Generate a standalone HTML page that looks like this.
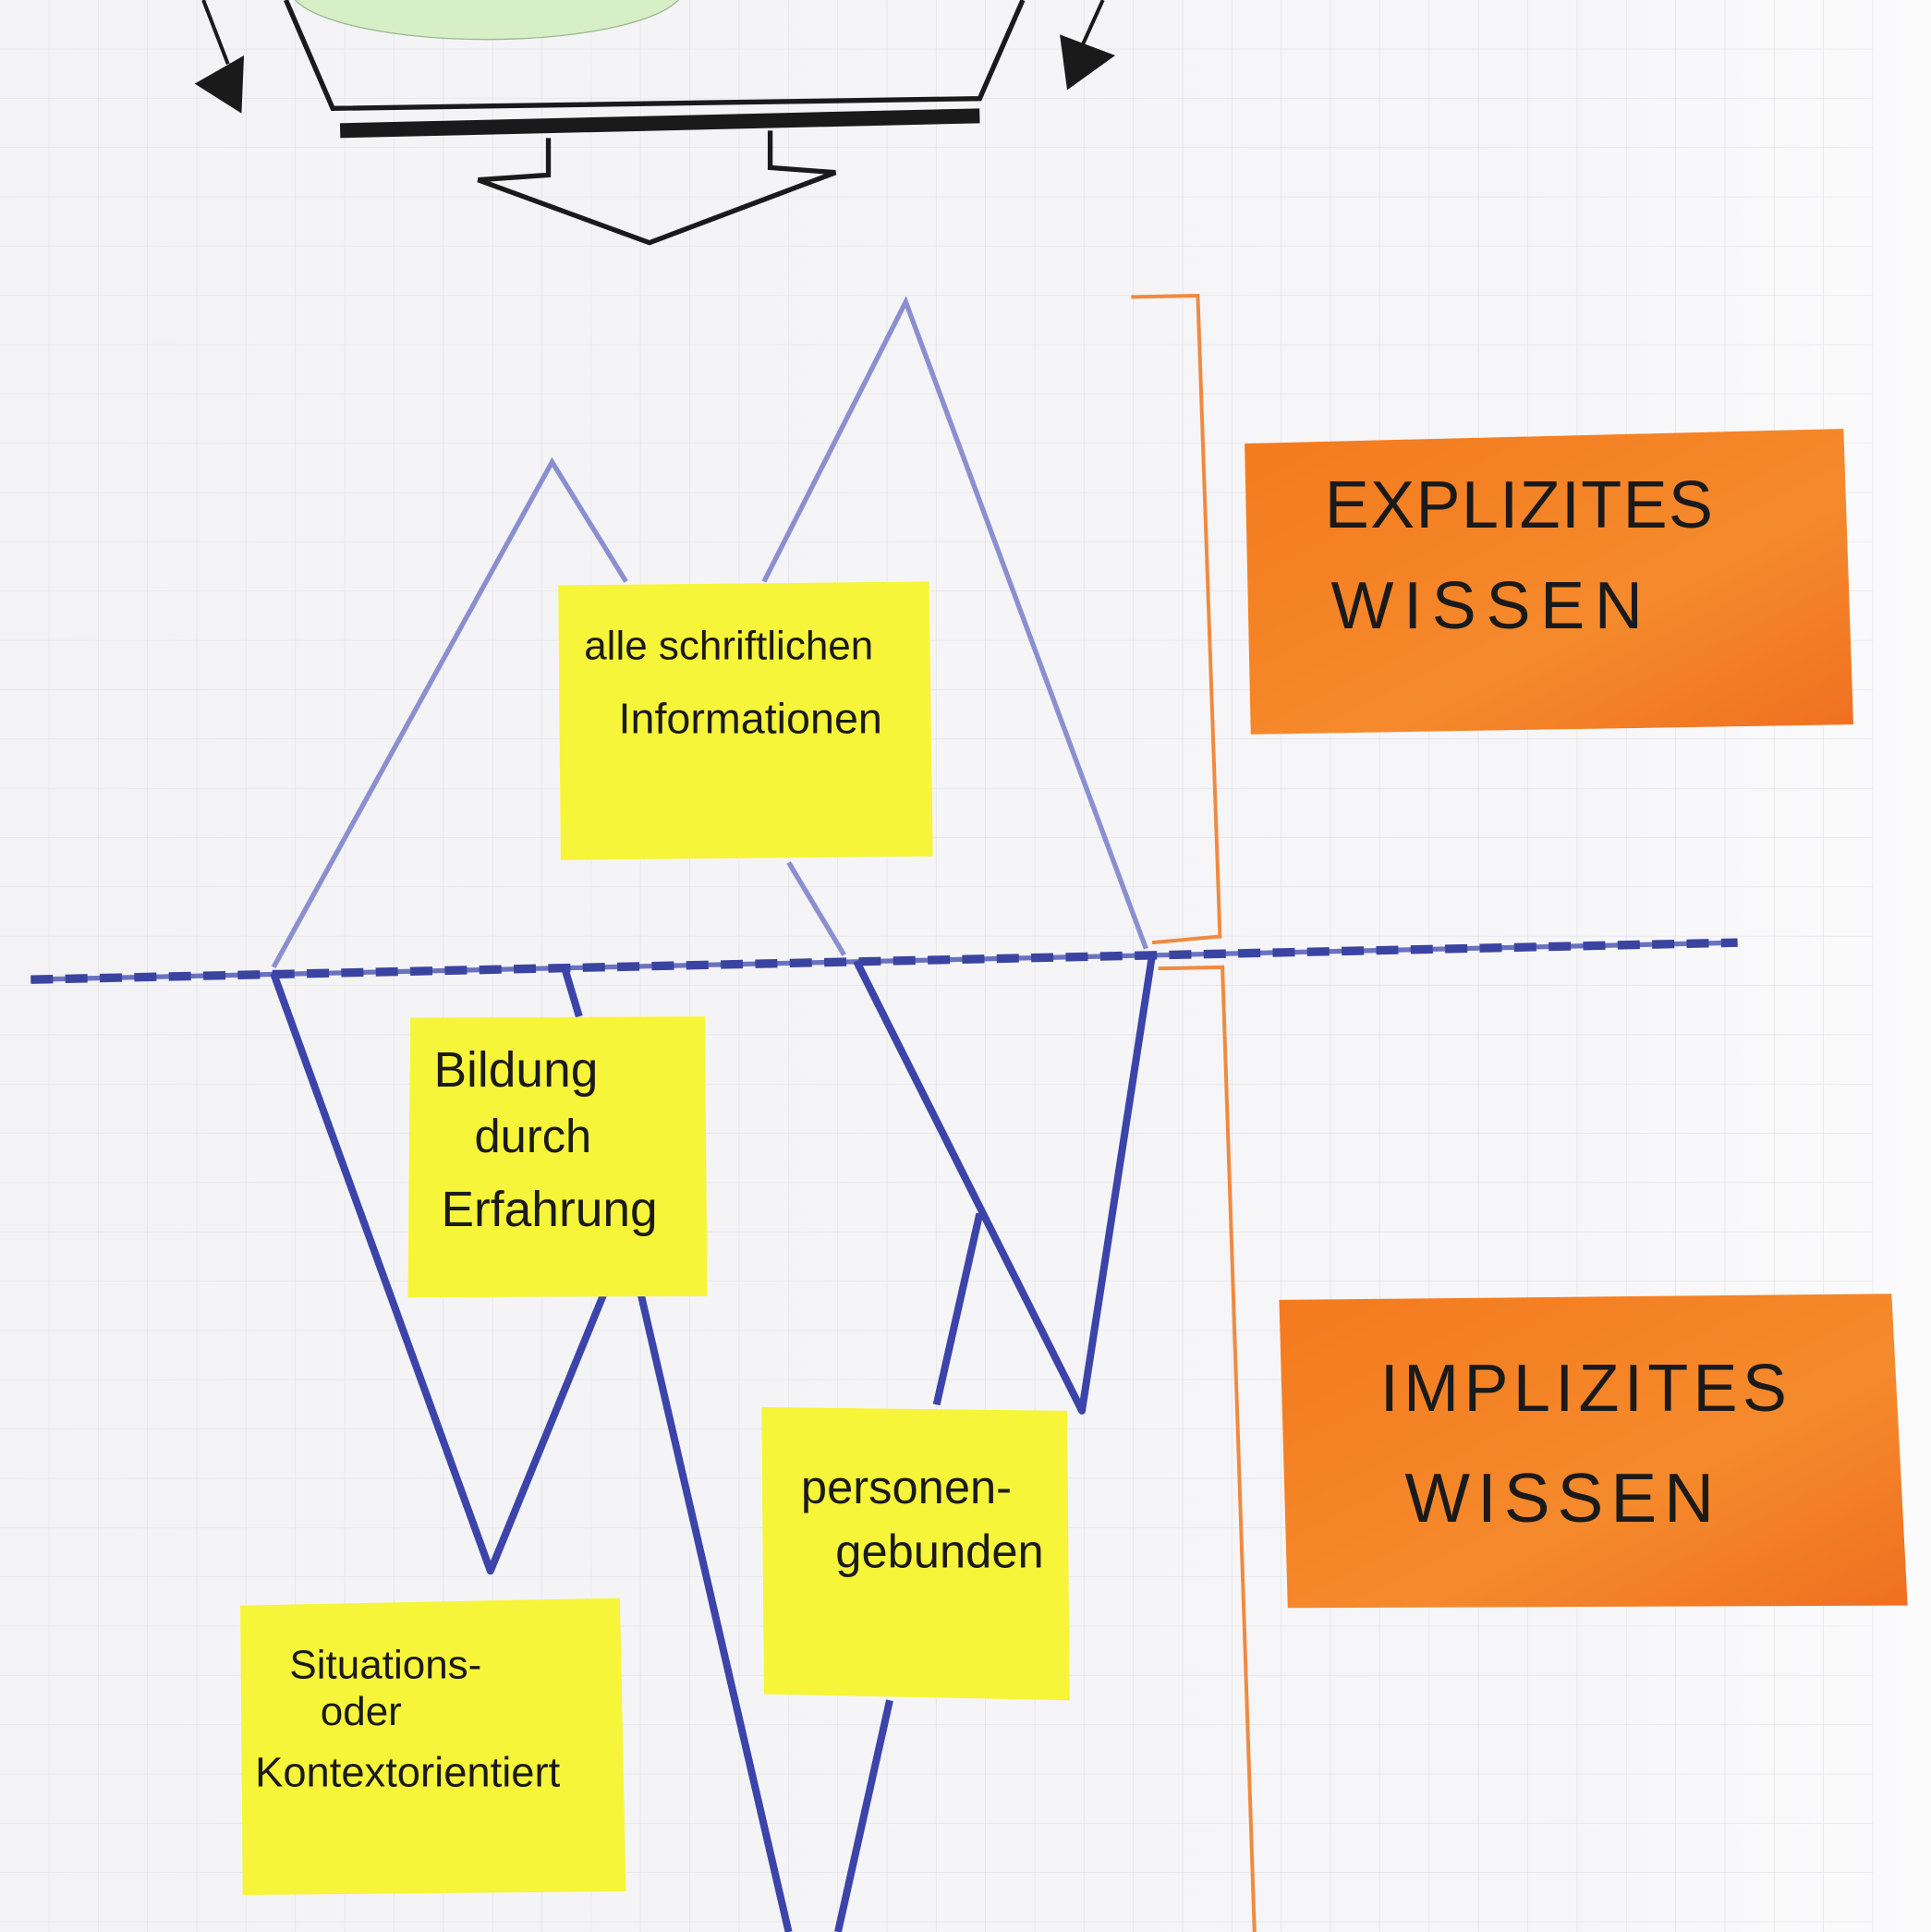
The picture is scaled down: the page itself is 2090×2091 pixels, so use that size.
<!DOCTYPE html>
<html><head><meta charset="utf-8"><style>
html,body{margin:0;padding:0;background:#f2f2f4;}
svg{display:block}
text{font-family:"Liberation Sans",sans-serif;fill:#1a1a1a}
</style></head><body>
<svg width="2090" height="2091" viewBox="0 0 1567 1568" preserveAspectRatio="none" xmlns="http://www.w3.org/2000/svg">
<defs>
<pattern id="g" width="40" height="40" patternUnits="userSpaceOnUse"><path d="M40 0V40H0" fill="none" stroke="#e2e2e6" stroke-width="1"/></pattern>
<linearGradient id="bg" x1="0" x2="1"><stop offset="0" stop-color="#f3f3f5"/><stop offset="0.8" stop-color="#f6f6f8"/><stop offset="1" stop-color="#fbfbfc"/></linearGradient>
<linearGradient id="or" x1="0" y1="0" x2="1" y2="1"><stop offset="0" stop-color="#f47a1e"/><stop offset="0.6" stop-color="#f58a2c"/><stop offset="1" stop-color="#f07020"/></linearGradient>
</defs>
<rect width="1567" height="1568" fill="url(#bg)"/>
<rect width="1520" height="1568" fill="url(#g)"/>
<ellipse cx="395" cy="-10" rx="160" ry="42" fill="#d6efc6" stroke="#9ab890" stroke-width="1"/>
<polyline points="232,0 270,88 795,80 830,0" fill="none" stroke="#1a1a1a" stroke-width="4"/>
<line x1="276" y1="106" x2="795" y2="94" stroke="#1a1a1a" stroke-width="12"/>
<polyline points="445,112 445,142 388,146 527,197 678,140 625,136 625,106" fill="none" stroke="#1a1a1a" stroke-width="4"/>
<line x1="165" y1="0" x2="185" y2="52" stroke="#1a1a1a" stroke-width="3"/>
<polygon points="158,68 198,45 196,92" fill="#1a1a1a"/>
<line x1="895" y1="0" x2="876" y2="42" stroke="#1a1a1a" stroke-width="3"/>
<polygon points="860,28 905,45 866,73" fill="#1a1a1a"/>
<polyline points="222,785 448,375 508,472" fill="none" stroke="#8a8fd0" stroke-width="4"/>
<polyline points="620,472 735,245 930,770" fill="none" stroke="#8a8fd0" stroke-width="4"/>
<line x1="640" y1="700" x2="685" y2="775" stroke="#8a8fd0" stroke-width="4"/>
<line x1="25" y1="795" x2="1410" y2="765" stroke="#6a72c0" stroke-width="4"/>
<line x1="25" y1="795" x2="1410" y2="765" stroke="#3a44a0" stroke-width="7" stroke-dasharray="18 10"/>
<g fill="none" stroke="#3c44aa" stroke-width="6" stroke-linejoin="round">
<polyline points="222,790 398,1275 490,1050"/>
<line x1="458" y1="785" x2="470" y2="825"/>
<line x1="520" y1="1050" x2="640" y2="1568"/>
<line x1="680" y1="1568" x2="722" y2="1380"/>
<polyline points="695,780 878,1145 935,775"/>
<line x1="795" y1="985" x2="760" y2="1140"/>
</g>
<polyline points="918,241 972,240 990,760 935,765" fill="none" stroke="#f08a40" stroke-width="3"/>
<polyline points="940,786 992,785 1018,1568" fill="none" stroke="#f08a40" stroke-width="3"/>
<polygon points="1010,360 1496,348 1504,588 1015,596" fill="url(#or)"/>
<text x="1075" y="428" font-size="54" letter-spacing="1">EXPLIZITES</text>
<text x="1080" y="510" font-size="54" letter-spacing="8">WISSEN</text>
<polygon points="1038,1055 1535,1050 1548,1303 1045,1305" fill="url(#or)"/>
<text x="1120" y="1145" font-size="54" letter-spacing="4">IMPLIZITES</text>
<text x="1140" y="1235" font-size="56" letter-spacing="6">WISSEN</text>
<polygon points="453,475 754,472 757,695 455,698" fill="#f7f53a"/>
<text x="474" y="535" font-size="33">alle schriftlichen</text>
<text x="502" y="595" font-size="35">Informationen</text>
<polygon points="333,826 572,825 574,1052 331,1053" fill="#f7f53a"/>
<text x="352" y="882" font-size="40">Bildung</text>
<text x="385" y="935" font-size="38">durch</text>
<text x="358" y="995" font-size="40">Erfahrung</text>
<polygon points="618,1142 866,1145 868,1380 620,1375" fill="#f7f53a"/>
<text x="650" y="1220" font-size="38">personen-</text>
<text x="678" y="1272" font-size="38">gebunden</text>
<polygon points="195,1303 503,1297 508,1535 197,1538" fill="#f7f53a"/>
<text x="235" y="1362" font-size="33">Situations-</text>
<text x="260" y="1400" font-size="33">oder</text>
<text x="207" y="1450" font-size="34">Kontextorientiert</text>
</svg>
</body></html>
